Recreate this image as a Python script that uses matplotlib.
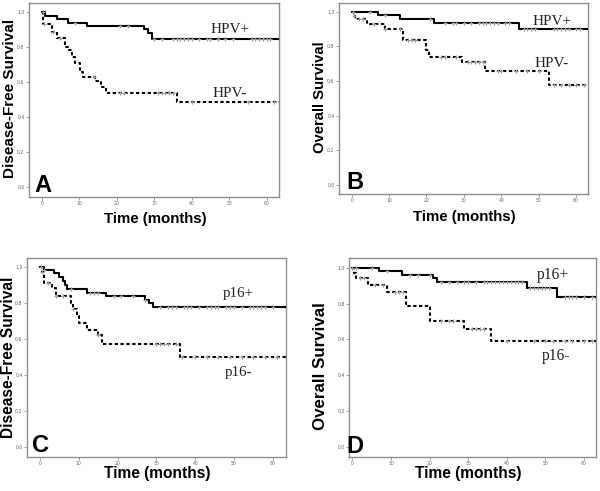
import numpy as np
import matplotlib
matplotlib.use("Agg")
import matplotlib.pyplot as plt

# ---------------- data ----------------
# Panel A: Disease-free survival by HPV status
A_pos_t = [0, 1, 4, 7, 12, 27.3, 28.4, 29.3, 64]
A_pos_s = [1.0, 0.981, 0.962, 0.941, 0.922, 0.903, 0.88, 0.848, 0.848]
A_pos_c = [0.4, 9, 21, 23, 30, 32, 35, 36, 37, 38, 39, 40, 42, 44, 45, 47, 49, 51, 56, 57, 58, 59, 60, 61]
A_neg_t = [0, 0.4, 2.7, 4, 6.2, 6.9, 8, 9, 10.2, 11.1, 14.2, 15.7, 17.1, 36, 64]
A_neg_s = [1.0, 0.932, 0.886, 0.852, 0.804, 0.785, 0.745, 0.71, 0.66, 0.632, 0.61, 0.575, 0.537, 0.489, 0.489]
A_neg_c = [0.5, 3, 5, 14, 21, 22, 31, 32, 33, 34, 35, 40, 55, 62]

# Panel B: Overall survival by HPV status
B_pos_t = [0, 6.9, 12.9, 22, 44.8, 64]
B_pos_s = [1.0, 0.981, 0.96, 0.935, 0.899, 0.899]
B_pos_c = [0.3, 5, 9, 21, 25, 27, 28, 30, 32, 34, 35, 36, 37, 38, 39, 41, 42, 46, 47, 48, 49, 54, 55, 56, 57, 58, 60, 61]
B_neg_t = [0, 0.5, 1, 4.1, 8.9, 13.7, 20, 20.7, 29.4, 35.6, 52.9, 64]
B_neg_s = [1.0, 0.975, 0.956, 0.929, 0.90, 0.837, 0.78, 0.74, 0.709, 0.657, 0.575, 0.575]
B_neg_c = [0.5, 2, 3, 6, 9, 13, 15, 16, 17, 24, 25, 28, 31, 32, 33, 34, 35, 39, 40, 44, 47, 50, 54, 56, 58, 60, 62]

# Panel C: Disease-free survival by p16 status
C_pos_t = [0, 1, 3.5, 5, 6, 6.5, 7, 12, 17, 27, 28, 29, 64]
C_pos_s = [1.0, 0.987, 0.967, 0.948, 0.925, 0.90, 0.877, 0.855, 0.839, 0.82, 0.80, 0.776, 0.776]
C_pos_c = [0.3, 1, 8, 13, 14, 15, 19, 21, 24, 27, 31, 33, 34, 35, 37, 38, 39, 41, 43, 44, 45, 46, 48, 49, 50, 52, 54, 55, 56, 57, 58, 60]
C_neg_t = [0, 0.5, 1, 3, 4, 8, 8.5, 9.5, 10, 12, 15, 16, 36, 64]
C_neg_s = [1.0, 0.975, 0.91, 0.885, 0.84, 0.80, 0.765, 0.73, 0.69, 0.65, 0.62, 0.57, 0.50, 0.50]
C_neg_c = [0.5, 2, 4, 6, 8.5, 15, 30, 31, 32, 33, 35, 36.5, 40, 43, 46, 49, 52, 55, 58, 61]

# Panel D: Overall survival by p16 status
D_pos_t = [0, 7, 12.8, 21, 21.8, 45.2, 53.1, 64]
D_pos_s = [1.0, 0.981, 0.961, 0.94, 0.918, 0.888, 0.839, 0.839]
D_pos_c = [0, 1, 5, 9, 15, 17, 20, 23, 25, 27, 29, 30, 32, 34, 35, 36, 37, 38, 39, 40, 41, 42, 43, 44,
           46, 47, 48, 49, 50, 51, 55, 56, 57, 58, 60, 62]
D_neg_t = [0, 0.5, 1, 4, 9, 14, 20, 29, 36, 64]
D_neg_s = [1.0, 0.97, 0.94, 0.903, 0.865, 0.785, 0.701, 0.66, 0.591, 0.591]
D_neg_c = [2, 3, 6, 8, 11, 12, 13, 23, 25, 26, 31, 32, 33, 34, 40, 47, 50, 52, 55, 57, 60, 62]

x_ticks = [0, 10, 20, 30, 40, 50, 60]
y_ticks = [0.0, 0.2, 0.4, 0.6, 0.8, 1.0]
y_tick_labels = ["0.0", "0.2", "0.4", "0.6", "0.8", "1.0"]

# ---------------- figure ----------------
W, H = 600, 491
fig = plt.figure(figsize=(W / 100, H / 100), dpi=100)
fig.patch.set_facecolor("white")

SANS = ["Liberation Sans", "DejaVu Sans"]
SERIF = ["Liberation Serif", "DejaVu Serif"]
FRAME = "#8f8f8f"


def px_axes(l, r, t, b):
    return [l / W, 1 - b / H, (r - l) / W, (b - t) / H]


def km(ax, t, s, cens, dashed):
    ls = (0, (1.6, 1.2)) if dashed else "-"
    ax.plot(t, s, drawstyle="steps-post", color="black", lw=1.5, ls=ls, zorder=3)
    # step value at each censor time
    cy = [s[np.searchsorted(t, c, side="right") - 1] for c in cens]
    ax.plot(cens, cy, ls="none", marker="+", ms=3.5, mew=0.8, color="#9a9a9a", zorder=4)


panels = [
    dict(box=(29, 279, 3, 197), xlim=(-3.39, 63.3), ylim=(-0.057, 1.054),
         pos=(A_pos_t, A_pos_s, A_pos_c), neg=(A_neg_t, A_neg_s, A_neg_c),
         ylabel="Disease-Free Survival", ylfs=11, ylc=(-0.076, 0.508),
         xlfs=10.8, xlc=(0.504, -0.112),
         lab_pos=("HPV+", 0.806, 0.845, 11), lab_neg=("HPV-", 0.802, 0.515, 11),
         letter=("A", 0.022, 0.026)),
    dict(box=(339, 588, 3, 194), xlim=(-3.4, 63.2), ylim=(-0.052, 1.05),
         pos=(B_pos_t, B_pos_s, B_pos_c), neg=(B_neg_t, B_neg_s, B_neg_c),
         ylabel="Overall Survival", ylfs=10.7, ylc=(-0.078, 0.505),
         xlfs=10.8, xlc=(0.502, -0.12),
         lab_pos=("HPV+", 0.855, 0.885, 11), lab_neg=("HPV-", 0.855, 0.665, 11),
         letter=("B", 0.030, 0.026)),
    dict(box=(27, 286, 257.7, 456.7), xlim=(-3.35, 63.4), ylim=(-0.056, 1.0535),
         pos=(C_pos_t, C_pos_s, C_pos_c), neg=(C_neg_t, C_neg_s, C_neg_c),
         ylabel="Disease-Free Survival", ylfs=11.2, ylc=(-0.072, 0.498),
         xlfs=11.2, xlc=(0.501, -0.084),
         lab_pos=("p16+", 0.815, 0.803, 10.8), lab_neg=("p16-", 0.817, 0.408, 10.8),
         letter=("C", 0.021, 0.024)),
    dict(box=(349.3, 596, 257.7, 457), xlim=(-0.78, 63.1), ylim=(-0.056, 1.056),
         pos=(D_pos_t, D_pos_s, D_pos_c), neg=(D_neg_t, D_neg_s, D_neg_c),
         ylabel="Overall Survival", ylfs=12.2, ylc=(-0.115, 0.458),
         xlfs=11.2, xlc=(0.483, -0.084),
         lab_pos=("p16+", 0.826, 0.891, 11.2), lab_neg=("p16-", 0.836, 0.487, 11.2),
         letter=("D", -0.012, 0.02)),
]

for p in panels:
    ax = fig.add_axes(px_axes(*p["box"]))
    km(ax, *p["neg"], dashed=True)
    km(ax, *p["pos"], dashed=False)
    ax.set_xlim(*p["xlim"])
    ax.set_ylim(*p["ylim"])
    ax.set_xticks(x_ticks)
    ax.set_yticks(y_ticks)
    ax.set_yticklabels(y_tick_labels)
    ax.tick_params(axis="both", length=2, width=0.6, color=FRAME, labelsize=3.3,
                   labelcolor="#666666", pad=1.2)
    for sp in ax.spines.values():
        sp.set_color(FRAME)
        sp.set_linewidth(1.0)
    ax.set_ylabel(p["ylabel"], fontsize=p["ylfs"], fontweight="bold", family=SANS)
    ax.yaxis.set_label_coords(*p["ylc"])
    ax.yaxis.label.set_va("center")
    ax.set_xlabel("Time (months)", fontsize=p["xlfs"], fontweight="bold", family=SANS)
    ax.xaxis.set_label_coords(*p["xlc"])
    ax.xaxis.label.set_va("center")
    for txt, x, y, fs in (p["lab_pos"], p["lab_neg"]):
        ax.text(x, y, txt, transform=ax.transAxes, ha="center", va="baseline",
                fontsize=fs, family=SERIF, color="#222222", zorder=5)
    L, lx, ly = p["letter"]
    ax.text(lx, ly, L, transform=ax.transAxes, ha="left", va="baseline",
            fontsize=17, fontweight="bold", family=SANS, color="black", zorder=6,
            clip_on=False)

fig.savefig("out.png", dpi=100, facecolor="white")
